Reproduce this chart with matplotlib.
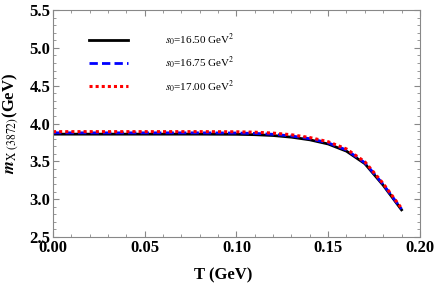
import matplotlib
matplotlib.use('Agg')
import matplotlib.pyplot as plt
import numpy as np
from matplotlib.ticker import MultipleLocator, FormatStrFormatter

plt.rcParams['font.family'] = 'Liberation Serif'
plt.rcParams['mathtext.fontset'] = 'stix'

T = [0.0, 0.02, 0.04, 0.06, 0.08, 0.10, 0.11, 0.12, 0.13, 0.14, 0.15, 0.16, 0.17, 0.18, 0.19]
m_1650 = [3.860, 3.860, 3.860, 3.860, 3.860, 3.858, 3.853, 3.842, 3.820, 3.785, 3.730, 3.635, 3.470, 3.185, 2.860]
m_1675 = [3.877, 3.877, 3.877, 3.877, 3.877, 3.875, 3.870, 3.858, 3.836, 3.800, 3.745, 3.650, 3.482, 3.196, 2.870]
m_1700 = [3.893, 3.893, 3.893, 3.893, 3.893, 3.891, 3.886, 3.874, 3.852, 3.815, 3.760, 3.664, 3.495, 3.208, 2.880]
labels = [r'$s_0$=16.50 GeV$^2$', r'$s_0$=16.75 GeV$^2$', r'$s_0$=17.00 GeV$^2$']

fig = plt.figure(figsize=(4.36, 2.87), dpi=100)
ax = fig.add_axes([0.1216, 0.174, 0.8414, 0.791])

ax.plot(T, m_1650, color='black', lw=2.0, label=labels[0])
ax.plot(T, m_1675, color='blue', lw=2.0, ls=(0, (3, 1.5)), label=labels[1])
ax.plot(T, m_1700, color='red', lw=2.2, ls=(0, (1, 1)), label=labels[2])

ax.set_xlim(0, 0.20)
ax.set_ylim(2.5, 5.5)
ax.xaxis.set_major_locator(MultipleLocator(0.05))
ax.xaxis.set_minor_locator(MultipleLocator(0.01))
ax.yaxis.set_major_locator(MultipleLocator(0.5))
ax.yaxis.set_minor_locator(MultipleLocator(0.1))
ax.xaxis.set_major_formatter(FormatStrFormatter('%.2f'))
ax.yaxis.set_major_formatter(FormatStrFormatter('%.1f'))

for s in ax.spines.values():
    s.set_color('#888888')
    s.set_linewidth(0.8)
ax.tick_params(which='both', direction='in', top=True, right=True, color='#888888')
ax.tick_params(which='major', length=4, width=0.8, labelsize=12, pad=2)
ax.tick_params(which='minor', length=2, width=0.6)
for lbl in ax.get_xticklabels() + ax.get_yticklabels():
    lbl.set_fontweight('bold')

ax.set_xlabel('T (GeV)', fontsize=12, fontweight='bold', labelpad=6)
ax.xaxis.set_label_coords(0.463, -0.135)
ax.set_ylabel(r'$\mathbfit{m}_{\mathrm{X\ (3872)}}$(GeV)', fontsize=12, fontweight='bold', labelpad=6)

leg = ax.legend(loc='upper left', bbox_to_anchor=(0.072, 0.95), frameon=False,
                fontsize=8, handlelength=3.5, handletextpad=3.3, labelspacing=0.6)

fig.savefig('out.png', dpi=100)
